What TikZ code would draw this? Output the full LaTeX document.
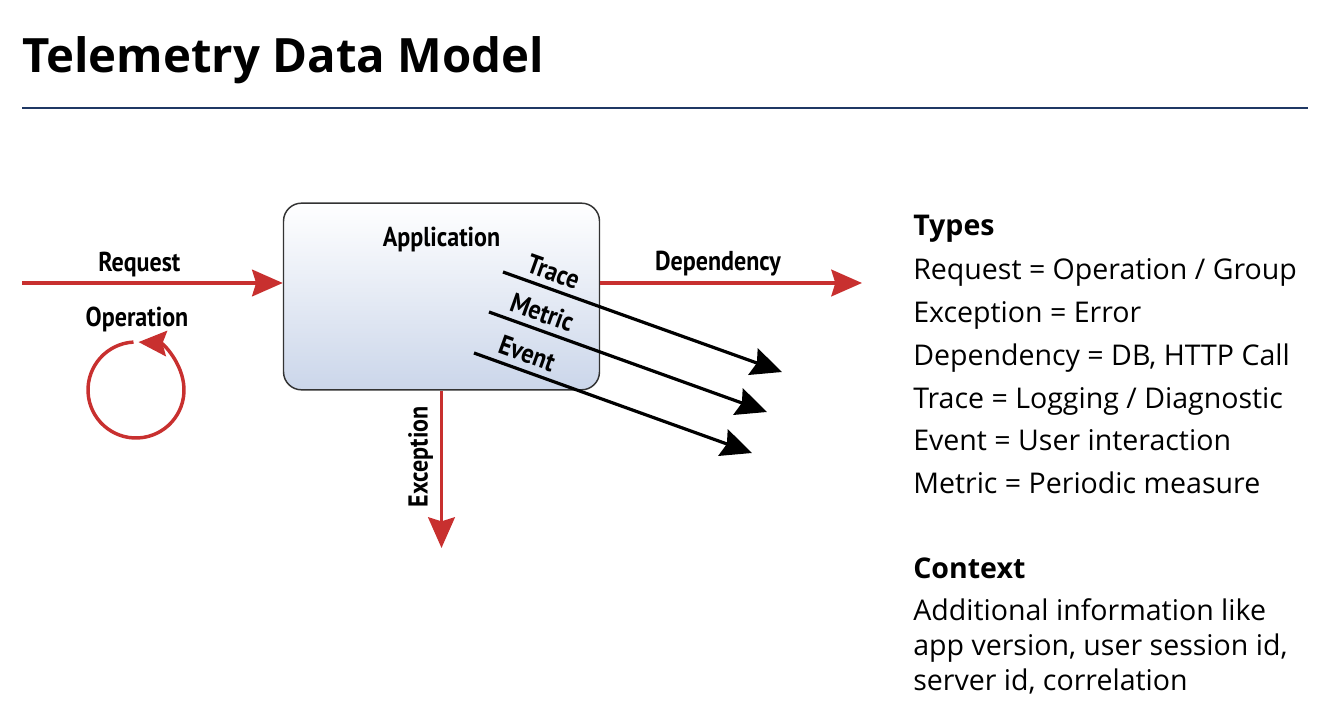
\documentclass[tikz,border=0pt]{standalone}
\usepackage{fontspec}
\setmainfont{Open Sans}
\newfontfamily\lblfont{PT Sans}[FakeStretch=0.88]
\usetikzlibrary{positioning,arrows.meta,calc}

\definecolor{appred}{HTML}{C8302F}
\definecolor{rulenavy}{HTML}{1F3864}
\definecolor{boxblue}{HTML}{CBD6EA}

\tikzset{
  lbl/.style={font=\lblfont\bfseries\fontsize{20.5}{22}\selectfont, inner sep=2pt},
  redflow/.style={draw=appred, line width=2.6pt, -{Stealth[length=23pt,width=20pt,inset=3pt]}},
  blackflow/.style={draw=black, line width=2.4pt, -{Stealth[length=23pt,width=21pt,inset=3pt]}},
  typeline/.style={font=\fontsize{21.4}{26}\selectfont, anchor=base west, inner sep=0pt},
  typehead/.style={typeline, font=\bfseries\fontsize{21.4}{26}\selectfont},
}

\begin{document}
\begin{tikzpicture}[x=0.75pt,y=-0.75pt]
  \useasboundingbox (0,0) rectangle (1329,720);

  % title and rule
  \node[font=\bfseries\fontsize{35.5}{40}\selectfont, anchor=base west, inner sep=0pt] (title) at (22,73) {Telemetry Data Model};
  \coordinate (rulel) at (22,108);
  \coordinate (ruler) at (1308,108);
  \draw[rulenavy, line width=2.2pt] (rulel) -- (ruler);

  % application box
  \node[draw=black!80, line width=1.1pt, rounded corners=13.5pt, top color=white, bottom color=boxblue,
        minimum width=237pt, minimum height=140pt] (app) at (441.5,296.5) {};
  \node[lbl, below=16pt of app.north] (apptitle) {Application};

  % request and operation loop
  \coordinate (reqin) at (22,283);
  \draw[redflow] (reqin) -- node[lbl, pos=0.45, above=1.5pt] (reqlbl) {Request} (reqin -| app.west);
  \node[lbl] (oplbl) at (137,319) {Operation};
  \coordinate (loopc) at (136,390);
  \draw[redflow, -{Stealth[length=21pt,width=19pt,inset=3pt]}]
    ($(loopc)+(-93:48)$) arc[start angle=-93, end angle=-447, radius=48];

  % dependency and exception
  \coordinate (depout) at (862,283);
  \draw[redflow] (app.east |- reqin) -- node[lbl, pos=0.45, above=1.5pt] (deplbl) {Dependency} (depout);
  \coordinate (excout) at (441.5,548);
  \draw[redflow] (app.south) -- node[lbl, pos=0.42, rotate=90, anchor=south, inner sep=5pt] (exclbl) {Exception} (excout);

  % trace, metric, event
  \coordinate (tracein) at (503,272);
  \coordinate (traceout) at (782,372);
  \coordinate (metricin) at (489,312);
  \coordinate (metricout) at (767,412);
  \coordinate (eventin) at (474,353);
  \coordinate (eventout) at (752,453);
  \draw[blackflow] (tracein) -- node[lbl, inner sep=0.5pt, sloped, above=4pt, pos=0.16] (tracelbl) {Trace} (traceout);
  \draw[blackflow] (metricin) -- node[lbl, inner sep=0.5pt, sloped, above=4pt, pos=0.17] (metriclbl) {Metric} (metricout);
  \draw[blackflow] (eventin) -- node[lbl, inner sep=0.5pt, sloped, above=4pt, pos=0.17] (eventlbl) {Event} (eventout);

  % types list
  \node[typehead] (types) at (913,236) {Types};
  \node[typeline] (type1) at (913,280) {Request = Operation / Group};
  \node[typeline] (type2) at (913,322.7) {Exception = Error};
  \node[typeline] (type3) at (913,365.4) {Dependency = DB, HTTP Call};
  \node[typeline] (type4) at (913,408) {Trace = Logging / Diagnostic};
  \node[typeline] (type5) at (913,450.8) {Event = User interaction};
  \node[typeline] (type6) at (913,493.5) {Metric = Periodic measure};

  % context
  \node[typehead] (context) at (913,578) {Context};
  \node[typeline] (ctx1) at (913,620) {Additional information like};
  \node[typeline] (ctx2) at (913,655) {app version, user session id,};
  \node[typeline] (ctx3) at (913,690) {server id, correlation};
\end{tikzpicture}
\end{document}
